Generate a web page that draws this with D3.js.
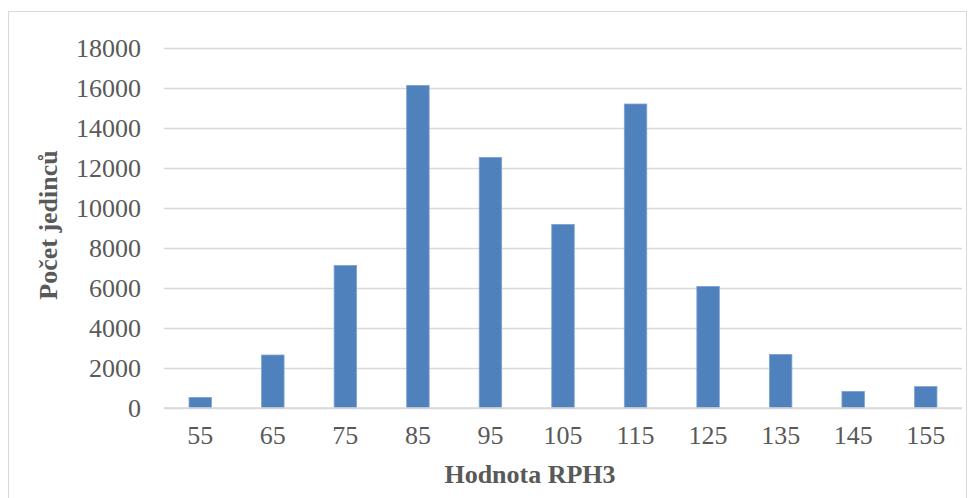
<!DOCTYPE html>
<html>
<head>
<meta charset="utf-8">
<script src="https://cdn.jsdelivr.net/npm/d3@7"></script>
<style>
  html, body { margin: 0; padding: 0; background: #fff; }
  svg { display: block; }
</style>
</head>
<body>
<svg id="chart" width="973" height="498"></svg>
<script>
// RPH3 value classes and number of individuals in each
const categories = ["55", "65", "75", "85", "95", "105", "115", "125", "135", "145", "155"];
const counts = [530, 2650, 7130, 16130, 12530, 9180, 15200, 6080, 2680, 830, 1070];
const yTicks = [0, 2000, 4000, 6000, 8000, 10000, 12000, 14000, 16000, 18000];
const xTitle = "Hodnota RPH3";
const yTitle = "Počet jedinců";

const svg = d3.select("#chart");
const W = 973, H = 498;
const plot = { left: 164, right: 962, top: 48, bottom: 408 };
const font = "'Liberation Serif', 'Times New Roman', serif";
const textColor = "#595959";

// outer chart frame
svg.append("rect")
  .attr("x", 8.5).attr("y", 11.5)
  .attr("width", 958).attr("height", 500)
  .attr("fill", "#fff")
  .attr("stroke", "#d9d9d9").attr("stroke-width", 1);

const x = d3.scaleBand()
  .domain(categories)
  .range([plot.left, plot.right])
  .paddingInner(0.69)
  .paddingOuter(0.345);

const y = d3.scaleLinear()
  .domain([0, 18000])
  .range([plot.bottom, plot.top]);

// horizontal gridlines
const yAxis = d3.axisLeft(y)
  .tickValues(yTicks)
  .tickSize(-(plot.right - plot.left))
  .tickPadding(23)
  .tickFormat(d3.format("d"));

const gy = svg.append("g")
  .attr("transform", `translate(${plot.left},0)`)
  .call(yAxis);
gy.select(".domain").remove();
gy.selectAll(".tick line")
  .attr("stroke", "#d9d9d9").attr("stroke-width", 1.5);
gy.selectAll(".tick text")
  .attr("fill", textColor)
  .style("font-family", font)
  .style("font-size", "26px");

// bars
svg.append("g")
  .selectAll("rect")
  .data(categories.map((c, i) => ({ c, v: counts[i] })))
  .join("rect")
  .attr("x", d => x(d.c))
  .attr("y", d => y(d.v))
  .attr("width", x.bandwidth())
  .attr("height", d => y(0) - y(d.v))
  .attr("fill", "#4f81bd")
  .attr("stroke", "#7ea3d3")
  .attr("stroke-width", 0.8);

// category axis
const xAxis = d3.axisBottom(x).tickSize(0).tickPadding(18);
const gx = svg.append("g")
  .attr("transform", `translate(0,${plot.bottom})`)
  .call(xAxis);
gx.select(".domain")
  .attr("d", `M${plot.left},0H${plot.right}`)
  .attr("stroke", "#d9d9d9").attr("stroke-width", 1.5);
gx.selectAll(".tick text")
  .attr("fill", textColor)
  .style("font-family", font)
  .style("font-size", "26px");

// axis titles
svg.append("text")
  .attr("x", 530).attr("y", 483)
  .attr("text-anchor", "middle")
  .attr("fill", textColor)
  .style("font-family", font)
  .style("font-size", "26px")
  .style("font-weight", "bold")
  .text(xTitle);

svg.append("text")
  .attr("transform", "translate(57,225) rotate(-90)")
  .attr("text-anchor", "middle")
  .attr("fill", textColor)
  .style("font-family", font)
  .style("font-size", "26px")
  .style("font-weight", "bold")
  .text(yTitle);
</script>
</body>
</html>
